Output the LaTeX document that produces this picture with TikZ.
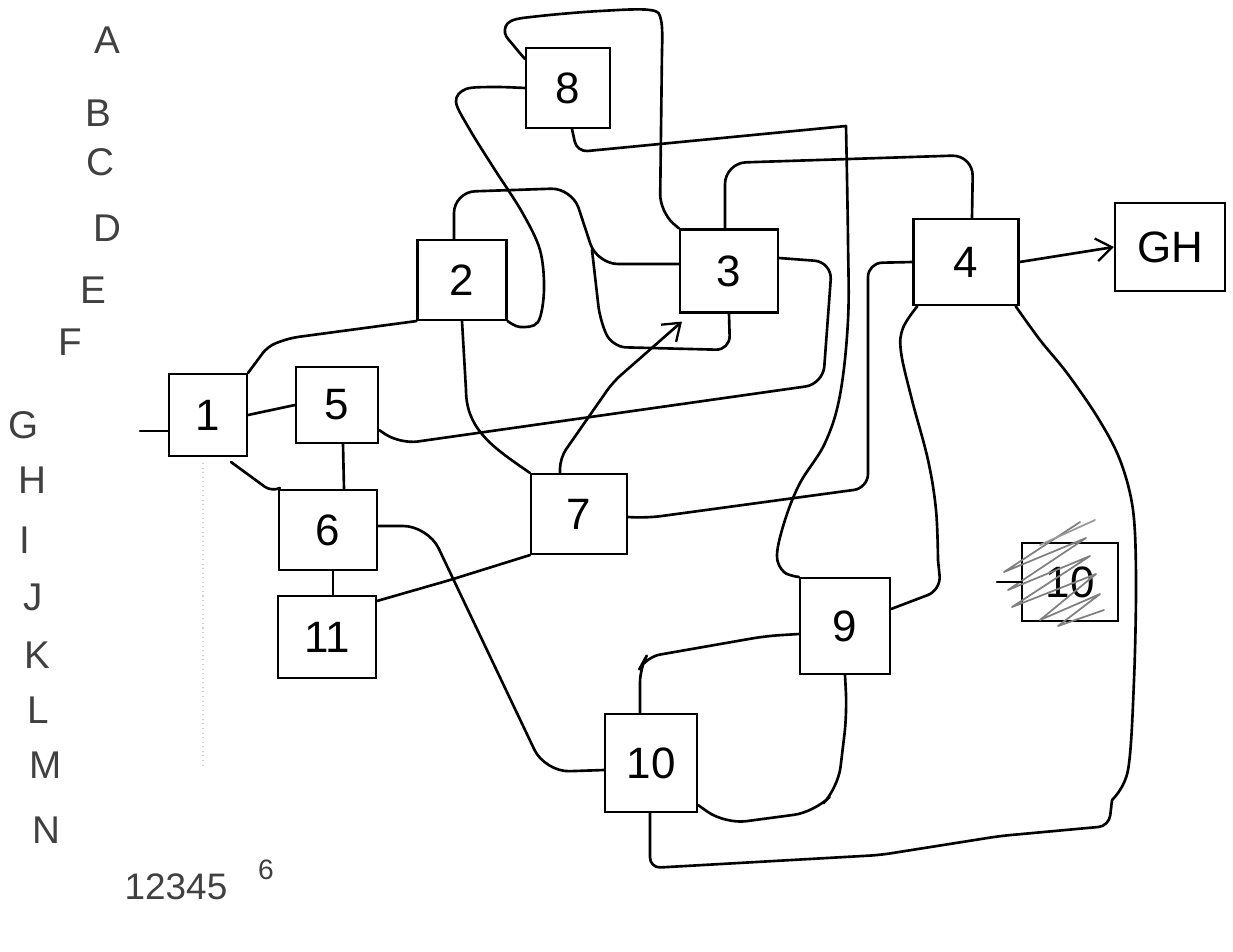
\documentclass[tikz,border=0pt]{standalone}
\usepackage{fontspec}
\setmainfont{Liberation Sans}
\usetikzlibrary{arrows.meta,calc}

\begin{document}
\begin{tikzpicture}[x=0.02cm,y=-0.02cm,
  conn/.style={line width=1.5pt, line cap=round, line join=round},
  arr/.style={conn, -{Straight Barb[length=9pt,width=13pt,line width=1.3pt]}},
  box/.style 2 args={draw, line width=1.2pt, inner sep=0pt,
    minimum width={#1*0.02cm}, minimum height={#2*0.02cm},
    font=\fontsize{25}{25}\selectfont},
  rowlabel/.style={text=black!75, font=\fontsize{22}{22}\selectfont},
  hatch/.style={draw=black!50, line width=1pt, line cap=round, line join=round}]

\useasboundingbox (0,0) rectangle (1233,951);

% grid labels down the left margin
\node[rowlabel] (la) at (107,40)  {A};
\node[rowlabel] (lb) at (98,113)  {B};
\node[rowlabel] (lc) at (100,162) {C};
\node[rowlabel] (ld) at (107,228) {D};
\node[rowlabel] (le) at (93,290)  {E};
\node[rowlabel] (lf) at (70,342)  {F};
\node[rowlabel] (lg) at (24,425)  {G};
\node[rowlabel] (lh) at (32,480)  {H};
\node[rowlabel] (li) at (25,540)  {I};
\node[rowlabel] (lj) at (33,597)  {J};
\node[rowlabel] (lk) at (37,655)  {K};
\node[rowlabel] (ll) at (38,710)  {L};
\node[rowlabel] (lm) at (46,765)  {M};
\node[rowlabel] (ln) at (46,830)  {N};
\node[rowlabel, font=\fontsize{21}{21}\selectfont] (lnum) at (176,887) {12345};
\node[rowlabel, font=\fontsize{16}{16}\selectfont] (lsix) at (266,870) {6};

% faint guide line
\draw[black!18, line width=0.6pt, dotted] (203,463) -- (203,765);

% blocks
\node[box={78}{82}]  (n1)  at (208,415)  {1};
\node[box={82}{76}]  (n5)  at (337,405)  {5};
\node[box={98}{80}]  (n6)  at (328,530)  {6};
\node[box={98}{82}]  (n11) at (327,637)  {11};
\node[box={89}{80}]  (n2)  at (462,280)  {2};
\node[box={96}{80}]  (n7)  at (579,514)  {7};
\node[box={84}{80}]  (n8)  at (568,88)   {8};
\node[box={98}{83}]  (n3)  at (729,271)  {3};
\node[box={105}{86}] (n4)  at (966,262)  {4};
\node[box={110}{88}] (gh)  at (1170,247) {GH};
\node[box={90}{96}]  (n9)  at (845,626)  {9};
\node[box={92}{98}]  (n10) at (651,763)  {10};
\node[box={96}{78}]  (n10h) at (1070,582) {10};

% scribbled-out block
\draw[hatch] (1080,522) -- (1004,572) -- (1086,538) -- (1008,590) -- (1090,556)
  -- (1012,607) -- (1096,574) -- (1040,620) -- (1100,594) -- (1058,626) -- (1104,610);
\draw[hatch, draw=black!40] (1040,545) -- (1095,520);
\coordinate (inh) at (997,582);
\draw[conn] (inh) -- (n10h.west);

% input to block 1
\coordinate (in1) at (140,431);
\draw[conn] (in1) -- (in1 -| n1.west);

% connectors
\draw[conn] (n1.east) -- (n5.west);
\draw[conn, rounded corners=5pt] (n1.north east) -- (268,346) -- (290,338) -- (n2.south west);
\draw[conn, rounded corners=5pt] ($(n1.south east)+(-17,5)$) -- (272,492) -- (n6.north west);
\draw[conn] ($(n5.south)+(6,0)$) -- ($(n6.north)+(16,0)$);
\draw[conn] ($(n6.south)+(5,0)$) -- ($(n11.north)+(6,0)$);
\draw[conn, rounded corners=4pt] ($(n11.north east)+(0,6)$) -- (450,580) -- (n7.south west);

% 5 to 3, round the right side of 3
\draw[conn, rounded corners=10pt] ($(n5.east)+(0,25)$) -- (400,444) -- (823,384)
  -- (832,262) -- ($(n3.east)+(0,-13)$);

% 6 to 10
\draw[conn, rounded corners=14pt] ($(n6.east)+(0,-4)$) -- (428,526) -- (545,772)
  -- ($(n10.west)+(0,7)$);

% 2 to 7
\draw[conn] (n2.south) -- (466,390) to[out=-90,in=145] (n7.north west);

% 7 to 3
\draw[arr, rounded corners=6pt] ($(n7.north)+(-19,0)$) -- (560,458) -- (613,382)
  -- ($(n3.south west)+(3,8)$);

% 7 to 4
\draw[conn, rounded corners=8pt] ($(n7.east)+(0,3)$) -- (647,518) -- (868,488)
  -- (868,263) -- (n4.west);

% 2 over the top into 3, with the branch from the bottom of 3
\draw[conn, rounded corners=12pt] ($(n2.north)+(-8,0)$) -- (454,192) -- (572,188)
  -- (597,264) -- ($(n3.west)+(0,-7)$);
\coordinate (j23) at (592,250);
\draw[conn, rounded corners=8pt] (n3.south) -- (730,350) -- (612,347) -- (600,320) -- (j23);

% 2 to 8
\draw[conn] plot[smooth, tension=0.55] coordinates {(n2.south east) (520,327) (538,322)
  (544,290) (540,250) (522,212) (495,170) (470,130) (456,102) (466,89) (495,87) (n8.west)};

% 8 to 3, over the top
\coordinate (k83) at (662,50);
\draw[conn] plot[smooth, tension=0.6] coordinates {($(n8.north west)+(0,12)$) (514,46)
  (505,33) (511,21) (540,16) (600,11) (650,10) (661,20) (k83)};
\draw[conn, rounded corners=10pt] (k83) -- (660,212) -- (n3.north west);

% 8 to 9
\coordinate (k89) at (846,126);
\draw[conn, rounded corners=6pt] ($(n8.south)+(4,0)$) -- (577,152) -- (k89);
\draw[conn] plot[smooth, tension=0.6] coordinates {(k89) (848,240) (848,320) (840,395)
  (825,443) (800,483) (785,520) (777,555) (784,572) (n9.north west)};

% 3 to 4, over the top
\draw[conn, rounded corners=12pt] ($(n3.north)+(-4,0)$) -- (725,163) -- (973,155)
  -- ($(n4.north)+(6,0)$);

% 4 to GH
\draw[arr] (n4.east) -- (gh.west);

% 4 to 9
\coordinate (k49) at (938,560);
\draw[conn] plot[smooth, tension=0.6] coordinates {($(n4.south west)+(5,0)$) (903,328)
  (901,352) (912,400) (928,460) (936,510) (k49)};
\draw[conn, rounded corners=8pt] (k49) -- (941,590) -- ($(n9.east)+(0,-17)$);

% 4 to 10, the long way round
\coordinate (k410) at (1112,800);
\draw[conn] plot[smooth, tension=0.55] coordinates {($(n4.south east)+(-4,0)$) (1040,340)
  (1067,373) (1098,418) (1120,460) (1133,510) (1136,580) (1134,680) (1128,770) (k410)};
\draw[conn, rounded corners=6pt] (k410) -- (1109,826) -- (1000,836) -- (880,855)
  -- (650,868) -- ($(n10.south)+(-1,0)$);

% 9 to 10
\draw[conn, rounded corners=8pt] ($(n9.west)+(0,8)$) -- (766,636) -- (646,657)
  -- (640,668) -- ($(n10.north)+(-11,0)$);
\draw[conn, rounded corners=12pt] (n9.south) -- (847,713) -- (838,788) -- (815,812)
  -- (725,824) -- ($(n10.south east)+(0,-8)$);

\end{tikzpicture}
\end{document}
